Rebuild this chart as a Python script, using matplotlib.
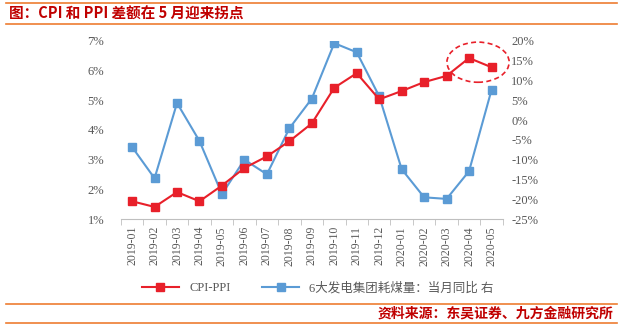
import matplotlib.pyplot as plt
from matplotlib.patches import Ellipse
from matplotlib.lines import Line2D
from matplotlib.ticker import FuncFormatter

plt.rcParams['font.family'] = ['Liberation Serif', 'Noto Sans CJK SC']

months = ['2019-01', '2019-02', '2019-03', '2019-04', '2019-05', '2019-06',
          '2019-07', '2019-08', '2019-09', '2019-10', '2019-11', '2019-12',
          '2020-01', '2020-02', '2020-03', '2020-04', '2020-05']
cpi_ppi = [1.60, 1.41, 1.91, 1.60, 2.13, 2.72, 3.11, 3.62, 4.22, 5.42, 5.91,
           5.03, 5.31, 5.61, 5.82, 6.42, 6.11]
coal_yoy = [-6.8, -14.7, 4.3, -5.3, -18.7, -10.0, -13.7, -2.1, 5.4, 19.4, 17.1,
            6.0, -12.4, -19.5, -19.9, -12.9, 7.6]

red = '#E8202A'
blue = '#5B9BD5'
grey = '#595959'
dark_red = '#C00000'
orange = '#ED7D31'

fig = plt.figure(figsize=(6.23, 3.29), dpi=100)
ax = fig.add_axes([0.194, 0.334, 0.613, 0.542])
ax2 = ax.twinx()

x = list(range(len(months)))
ax2.plot(x, coal_yoy, color=blue, lw=1.5, marker='s', ms=6, zorder=2)
ax.plot(x, cpi_ppi, color=red, lw=1.5, marker='s', ms=6, zorder=3)
ax.set_zorder(ax2.get_zorder() + 1)
ax.patch.set_visible(False)

ax.set_xlim(-0.5, len(months) - 0.5)
ax.set_ylim(1, 7)
ax.set_yticks(range(1, 8))
ax.yaxis.set_major_formatter(FuncFormatter(lambda v, p: f'{v:.0f}%'))
ax2.set_ylim(-25, 20)
ax2.set_yticks(range(-25, 21, 5))
ax2.yaxis.set_major_formatter(FuncFormatter(lambda v, p: f'{v:.0f}%'))

ax.set_xticks(x)
ax.set_xticklabels(months, rotation=90)
ax.set_xticks([i - 0.5 for i in range(len(months) + 1)], minor=True)
ax.tick_params(axis='x', which='major', length=0, pad=5, labelsize=8.5, labelcolor=grey)
ax.tick_params(axis='x', which='minor', length=4, color='#BFBFBF')
ax.tick_params(axis='y', length=0, labelsize=9, labelcolor=grey, pad=12)
ax2.tick_params(axis='y', length=0, labelsize=9, labelcolor=grey, pad=6)

for a in (ax, ax2):
    for s in ('top', 'left', 'right'):
        a.spines[s].set_visible(False)
ax2.spines['bottom'].set_visible(False)
ax.spines['bottom'].set_color('#BFBFBF')

# dashed circle around the turning point
ell = Ellipse((15.4, 6.28), 2.77, 1.35, fill=False, ls=(0, (3, 2)),
              ec=red, lw=1.2, clip_on=False, zorder=4)
ax.add_patch(ell)

handles = [Line2D([], [], color=red, lw=1.5, marker='s', ms=6),
           Line2D([], [], color=blue, lw=1.5, marker='s', ms=6)]
fig.legend(handles, ['CPI-PPI', '6大发电集团耗煤量：当月同比 右'],
           loc='center', bbox_to_anchor=(0.51, 0.125), ncol=2, frameon=False,
           fontsize=9, handlelength=3, columnspacing=2.5, labelcolor=grey)

# title and source with orange rules
fig.add_artist(Line2D([0.01, 0.99], [0.99, 0.99], color=orange, lw=1.2))
fig.add_artist(Line2D([0.01, 0.99], [0.928, 0.928], color=orange, lw=1.2))
fig.text(0.015, 0.958, '图：CPI 和 PPI 差额在 5 月迎来拐点', color=dark_red,
         fontsize=10.5, fontweight='bold', va='center',
         family=['Noto Sans CJK SC'])
fig.add_artist(Line2D([0.01, 0.99], [0.076, 0.076], color=orange, lw=1.2))
fig.add_artist(Line2D([0.01, 0.99], [0.018, 0.018], color=orange, lw=1.2))
fig.text(0.985, 0.047, '资料来源：东吴证券、九方金融研究所', color=dark_red,
         fontsize=10, fontweight='bold', va='center', ha='right',
         family=['Noto Sans CJK SC'])

fig.savefig('out.png', dpi=100)
